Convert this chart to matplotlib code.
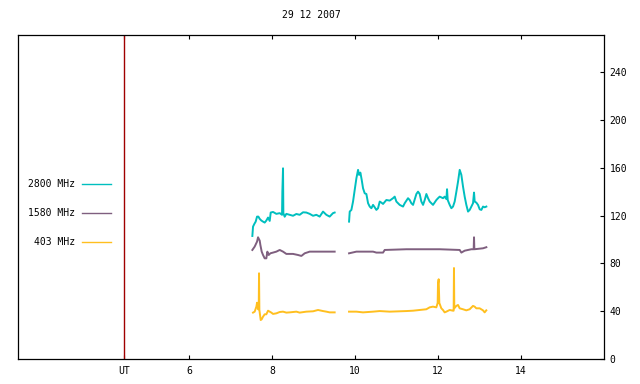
import matplotlib
matplotlib.use("Agg")
import matplotlib.pyplot as plt
import numpy as np

NAN = np.nan

# 2800 MHz flux (hours UT, sfu)
t2800 = [7.527, 7.543, 7.575, 7.607, 7.640, 7.672, 7.704, 7.744, 7.784, 7.824,
         7.864, 7.905, 7.945, 7.969, 8.025, 8.105, 8.186, 8.242, 8.250, 8.266,
         8.274, 8.306, 8.346, 8.426, 8.507, 8.587, 8.667, 8.748, 8.828, 8.908,
         8.989, 9.069, 9.149, 9.230, 9.310, 9.390, 9.470, 9.510, 9.68,
         9.857, 9.873, 9.913, 9.953, 9.993, 10.034, 10.074, 10.098, 10.130, 10.162,
         10.194, 10.234, 10.274, 10.315, 10.355, 10.395, 10.435, 10.475, 10.515, 10.555,
         10.596, 10.636, 10.676, 10.756, 10.837, 10.917, 10.957, 10.997, 11.077, 11.158,
         11.198, 11.278, 11.318, 11.358, 11.399, 11.479, 11.519, 11.559, 11.599, 11.640,
         11.680, 11.720, 11.760, 11.800, 11.840, 11.880, 11.961, 12.001, 12.041, 12.121,
         12.161, 12.202, 12.218, 12.234, 12.282, 12.322, 12.362, 12.402, 12.443, 12.483,
         12.523, 12.563, 12.603, 12.643, 12.683, 12.724, 12.764, 12.804, 12.844, 12.868,
         12.884, 12.924, 12.964, 13.005, 13.045, 13.085, 13.125, 13.165]
f2800 = [102.9, 110.7, 113.0, 114.9, 119.1, 119.1, 117.2, 115.8, 114.9, 114.1,
         115.8, 118.3, 115.5, 122.5, 123.0, 121.4, 122.0, 120.6, 140.0, 159.5,
         122.0, 119.0, 121.4, 120.6, 119.8, 121.3, 120.6, 122.7, 122.5, 121.4,
         119.8, 120.6, 119.1, 123.3, 120.6, 119.1, 122.0, 122.5, NAN,
         114.9, 123.3, 124.7, 131.7, 141.4, 151.2, 158.2, 154.0, 155.9, 149.8,
         142.8, 138.6, 138.0, 130.3, 127.5, 126.1, 128.9, 126.9, 124.7, 126.1,
         131.7, 130.8, 129.7, 133.0, 132.5, 134.5, 135.8, 131.7, 128.9, 127.5,
         130.3, 134.5, 133.0, 130.3, 128.9, 138.0, 140.0, 138.0, 131.7, 128.9,
         133.0, 138.0, 134.5, 131.7, 130.3, 128.9, 133.0, 134.5, 135.8, 134.5,
         135.8, 133.8, 142.0, 133.0, 128.9, 126.1, 127.5, 131.7, 140.0, 148.4,
         158.2, 154.0, 144.2, 135.8, 128.9, 123.3, 124.7, 127.5, 130.3, 139.2,
         131.7, 130.8, 128.9, 125.2, 124.7, 127.5, 126.9, 127.5]

# 1580 MHz flux
t1580 = [7.527, 7.583, 7.640, 7.664, 7.704, 7.720, 7.752, 7.784, 7.824, 7.864,
         7.888, 7.921, 7.961, 8.025, 8.105, 8.186, 8.266, 8.346, 8.507, 8.627,
         8.708, 8.788, 8.908, 9.069, 9.230, 9.390, 9.510, 9.68,
         9.857, 10.034, 10.435, 10.515, 10.676, 10.716, 11.238, 11.640, 12.041, 12.523,
         12.563, 12.643, 12.804, 12.860, 12.868, 12.876, 13.085, 13.165]
f1580 = [91.2, 94.0, 98.2, 101.8, 99.0, 95.4, 89.8, 87.0, 84.2, 84.2,
         89.8, 87.0, 88.4, 89.0, 89.8, 91.2, 89.8, 87.9, 87.9, 87.0,
         86.2, 88.4, 89.8, 89.8, 89.8, 89.8, 89.8, NAN,
         88.4, 89.8, 89.8, 89.0, 89.0, 91.2, 91.8, 91.8, 91.8, 91.2,
         89.0, 90.6, 91.8, 91.8, 101.8, 91.8, 92.6, 93.5]

# 403 MHz flux
t403 = [7.543, 7.583, 7.624, 7.640, 7.664, 7.680, 7.688, 7.696, 7.728, 7.752,
        7.784, 7.824, 7.864, 7.905, 7.945, 7.985, 8.025, 8.105, 8.186, 8.266,
        8.346, 8.426, 8.587, 8.667, 8.828, 8.989, 9.109, 9.230, 9.310, 9.390,
        9.510, 9.68,
        9.856, 10.033, 10.193, 10.434, 10.595, 10.836, 11.076, 11.237, 11.398, 11.558,
        11.719, 11.799, 11.879, 11.960, 11.992, 12.000, 12.016, 12.032, 12.080, 12.120,
        12.160, 12.201, 12.281, 12.361, 12.377, 12.385, 12.393, 12.441, 12.482, 12.522,
        12.602, 12.682, 12.763, 12.843, 12.883, 12.923, 13.004, 13.084, 13.124, 13.164]
f403 = [38.8, 39.6, 43.8, 47.1, 41.6, 41.6, 71.7, 41.0, 32.6, 33.2,
        35.4, 37.4, 37.4, 40.4, 39.6, 38.8, 37.7, 38.2, 39.3, 39.6,
        38.8, 39.0, 39.6, 38.8, 39.6, 39.9, 41.0, 40.1, 39.6, 39.0,
        39.0, NAN,
        39.6, 39.6, 39.0, 39.6, 40.1, 39.6, 39.9, 40.1, 40.4, 41.0,
        41.6, 43.2, 43.8, 43.2, 46.9, 62.8, 66.7, 46.9, 42.4, 41.0,
        39.0, 39.6, 41.0, 40.4, 40.4, 76.1, 42.4, 44.4, 45.2, 42.4,
        41.6, 40.7, 41.6, 44.4, 43.8, 42.4, 42.4, 40.7, 39.0, 40.7]

series = [("2800 MHz", t2800, f2800, "#00bfbf"),
          ("1580 MHz", t1580, f1580, "#7f5f7f"),
          ("403 MHz", t403, f403, "#ffbf1f")]

ut_hour = 4.43
xticks = [ut_hour, 6, 8, 10, 12, 14]
xlabels = ["UT", "6", "8", "10", "12", "14"]
yticks = [0, 40, 80, 120, 160, 200, 240]

mono = "DejaVu Sans Mono"
fig = plt.figure(figsize=(6.4, 3.84), dpi=100)
ax = fig.add_axes([18 / 640, 25 / 384, 586 / 640, 324 / 384])

for name, t, f, c in series:
    ax.plot(t, f, color=c, lw=1.4)

ax.axvline(ut_hour, color="#a00000", lw=1.0)

ax.set_xlim(1.88, 16.0)
ax.set_ylim(0, 271)
ax.set_xticks(xticks)
ax.set_xticklabels(xlabels, family=mono, fontsize=7)
ax.set_yticks(yticks)
ax.set_yticklabels([str(v) for v in yticks], family=mono, fontsize=7)
ax.yaxis.tick_right()
ax.tick_params(axis="x", direction="in", length=3, width=0.8, top=True, pad=5)
ax.tick_params(axis="y", direction="in", length=3, width=0.8, left=False, right=True, pad=4)
for s in ax.spines.values():
    s.set_linewidth(0.9)

ax.set_title("29 12 2007", family=mono, fontsize=7, pad=12)

# gnuplot style key: text right aligned, sample line to the right
key_y = [0.540, 0.4506, 0.361]
for (name, t, f, c), ky in zip(series, key_y):
    ax.text(0.0968, ky, name, transform=ax.transAxes, ha="right", va="center",
            family=mono, fontsize=7)
    ax.plot([0.1087, 0.1584], [ky, ky], transform=ax.transAxes, color=c, lw=1.0)

fig.savefig("out.png", dpi=100)
